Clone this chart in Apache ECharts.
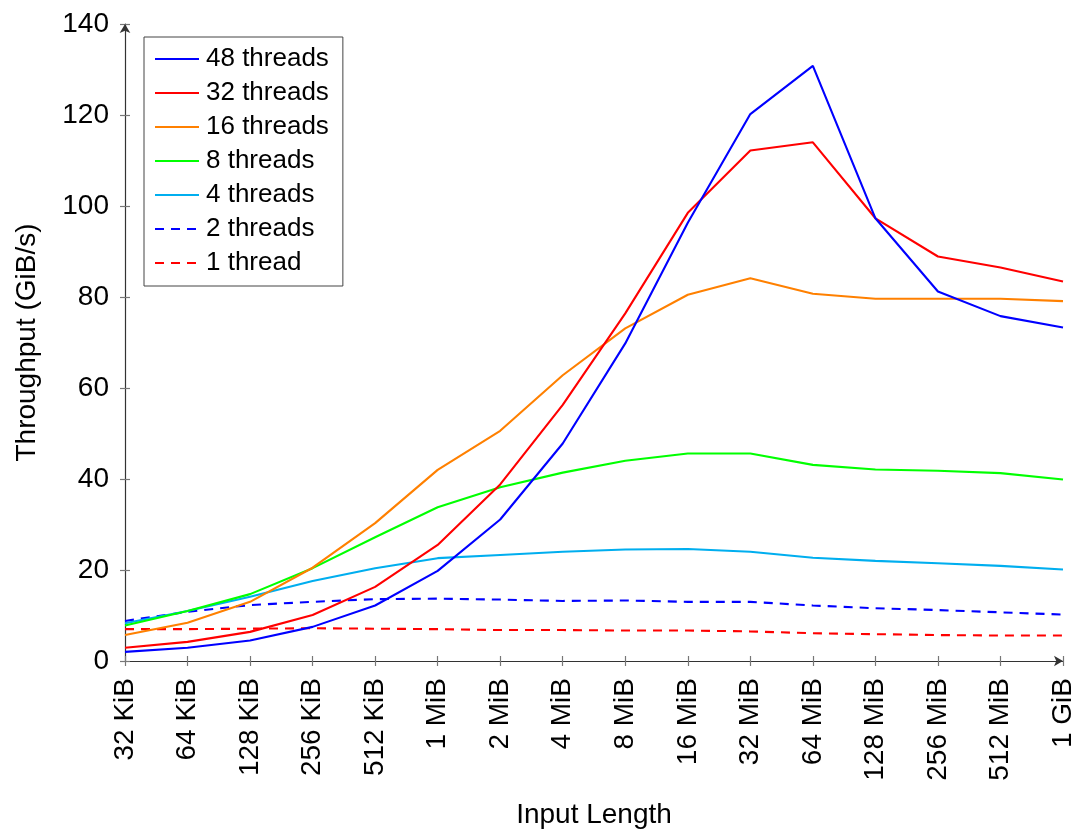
<!DOCTYPE html>
<html>
<head>
<meta charset="utf-8">
<script src="https://cdn.jsdelivr.net/npm/echarts@6/dist/echarts.min.js"></script>
<style>
html,body{margin:0;padding:0;background:#fff;}
#chart{width:1078px;height:830px;}
</style>
</head>
<body>
<div id="chart"></div>
<script>
const categories = ['32 KiB','64 KiB','128 KiB','256 KiB','512 KiB','1 MiB','2 MiB','4 MiB','8 MiB','16 MiB','32 MiB','64 MiB','128 MiB','256 MiB','512 MiB','1 GiB'];
const yTicks = {min: 0, max: 140, step: 20};

const t48 = [2.0, 2.9, 4.5, 7.5, 12.2, 19.8, 31.1, 47.8, 69.8, 96.3, 120.2, 130.8, 97.3, 81.2, 75.8, 73.3];
const t32 = [2.9, 4.2, 6.4, 10.1, 16.3, 25.5, 38.8, 56.3, 76.4, 98.5, 112.2, 114.0, 97.3, 88.9, 86.5, 83.4];
const t16 = [5.7, 8.4, 13.0, 20.5, 30.3, 42.0, 50.6, 62.8, 73.1, 80.5, 84.1, 80.7, 79.6, 79.6, 79.6, 79.1];
const t8  = [7.8, 11.0, 14.7, 20.4, 27.2, 33.8, 38.2, 41.4, 44.0, 45.6, 45.6, 43.1, 42.1, 41.8, 41.3, 39.9];
const t4  = [8.3, 11.0, 14.1, 17.6, 20.4, 22.6, 23.3, 24.0, 24.5, 24.6, 24.0, 22.7, 22.0, 21.5, 20.9, 20.1];
const t2  = [8.8, 10.8, 12.3, 13.0, 13.6, 13.7, 13.5, 13.2, 13.3, 13.0, 13.0, 12.2, 11.6, 11.2, 10.7, 10.2];
const t1  = [7.0, 7.0, 7.1, 7.2, 7.1, 7.0, 6.8, 6.8, 6.7, 6.7, 6.5, 6.1, 5.9, 5.7, 5.6, 5.6];

const seriesNames = ['48 threads','32 threads','16 threads','8 threads','4 threads','2 threads','1 thread'];
const seriesData = [t48, t32, t16, t8, t4, t2, t1];
const seriesColors = ['#0000ff','#ff0000','#ff8000','#00ff00','#00aeef','#0000ff','#ff0000'];
const seriesDashed = [false,false,false,false,false,true,true];

const FONT = '"Liberation Sans", Arial, sans-serif';
const FS = 28;
const LFS = 26;
const AXC = '#333333';

const chart = echarts.init(document.getElementById('chart'), null, {renderer: 'canvas'});

const series = seriesNames.map((n, i) => ({
  name: n,
  type: 'line',
  data: seriesData[i],
  xAxisIndex: 0,
  yAxisIndex: 0,
  symbol: 'none',
  showSymbol: false,
  smooth: false,
  animation: false,
  z: 10 - i,
  lineStyle: {
    color: seriesColors[i],
    width: 2.1,
    type: seriesDashed[i] ? [9, 7] : 'solid'
  },
  itemStyle: {color: seriesColors[i], opacity: 0}
}));

const option = {
  animation: false,
  backgroundColor: '#ffffff',
  textStyle: {fontFamily: FONT},
  grid: {left: 125, right: 15, top: 24, bottom: 169, containLabel: false, outerBoundsMode: 'none'},
  legend: {
    orient: 'vertical',
    left: 144,
    top: 37,
    padding: [9, 14, 10, 10],
    itemGap: 8,
    itemWidth: 44,
    itemHeight: 14,
    borderColor: '#444',
    borderWidth: 1,
    backgroundColor: '#fff',
    data: seriesNames,
    itemStyle: {opacity: 0, color: 'transparent', borderWidth: 0},
    textStyle: {fontFamily: FONT, fontSize: LFS, color: '#000', lineHeight: 26, padding: [0,0,0,2]}
  },
  xAxis: [{
    type: 'category',
    data: categories,
    boundaryGap: false,
    position: 'bottom',
    name: 'Input Length',
    nameLocation: 'middle',
    nameGap: 140,
    nameTextStyle: {fontFamily: FONT, fontSize: FS, color: '#000', verticalAlign: 'top'},
    axisLine: {show: true, lineStyle: {color: AXC, width: 1.2}, symbol: ['none', 'arrow'], symbolSize: [8, 9]},
    axisTick: {show: true, inside: false, length: 5, lineStyle: {color: '#777', width: 1.2}},
    axisLabel: {rotate: 90, fontFamily: FONT, fontSize: FS, color: '#000', margin: 17, interval: 0},
    splitLine: {show: false}
  }, {
    type: 'category',
    data: categories,
    boundaryGap: false,
    position: 'bottom',
    axisLine: {show: false},
    axisTick: {show: true, inside: true, length: 5, lineStyle: {color: '#777', width: 1.2}},
    axisLabel: {show: false},
    splitLine: {show: false}
  }],
  yAxis: [{
    type: 'value',
    min: yTicks.min,
    max: yTicks.max,
    interval: yTicks.step,
    position: 'left',
    name: 'Throughput (GiB/s)',
    nameLocation: 'middle',
    nameGap: 84,
    nameTextStyle: {fontFamily: FONT, fontSize: FS, color: '#000'},
    axisLine: {show: true, lineStyle: {color: AXC, width: 1.2}, symbol: ['none', 'arrow'], symbolSize: [8, 9]},
    axisTick: {show: true, inside: false, length: 5, lineStyle: {color: '#777', width: 1.2}},
    axisLabel: {fontFamily: FONT, fontSize: FS, color: '#000', margin: 16},
    splitLine: {show: false}
  }, {
    type: 'value',
    min: yTicks.min,
    max: yTicks.max,
    interval: yTicks.step,
    position: 'left',
    axisLine: {show: false},
    axisTick: {show: true, inside: true, length: 5, lineStyle: {color: '#777', width: 1.2}},
    axisLabel: {show: false},
    splitLine: {show: false}
  }],
  series: series
};

chart.setOption(option);
</script>
</body>
</html>
